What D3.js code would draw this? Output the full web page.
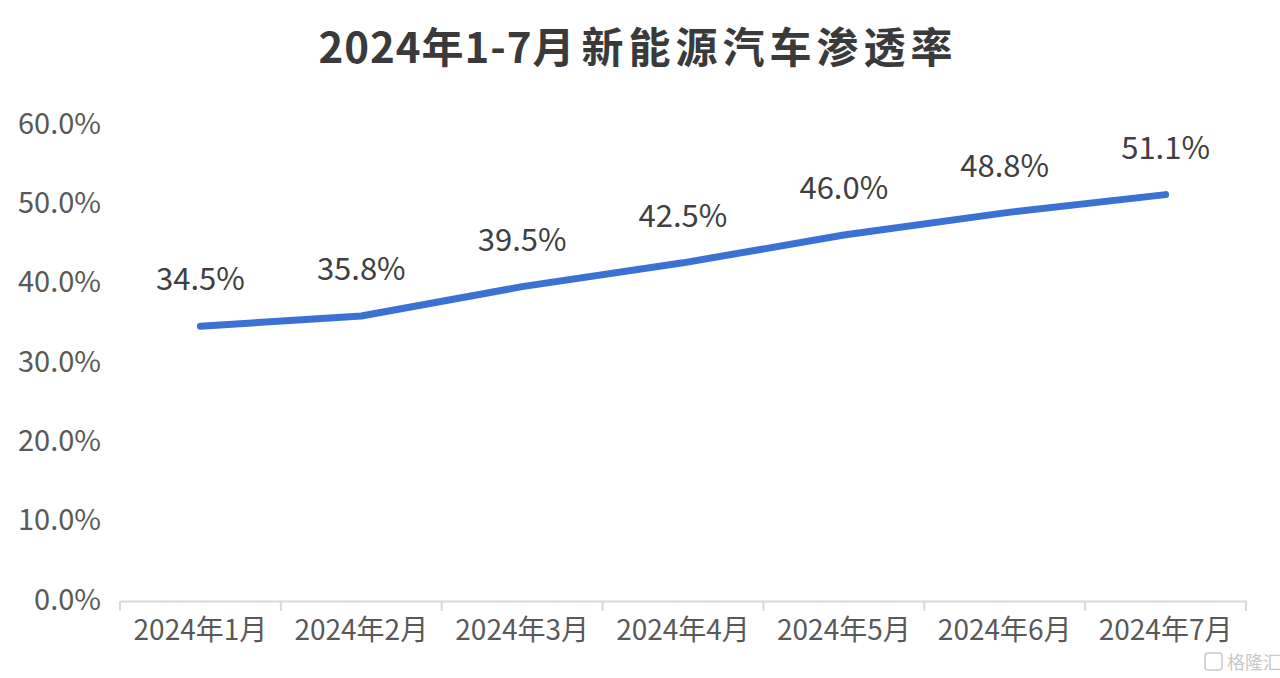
<!DOCTYPE html>
<html><head><meta charset="utf-8">
<script src="https://cdn.jsdelivr.net/npm/d3@7"></script>
<style>
html,body{margin:0;padding:0;background:#fff;}
svg{display:block;}
</style></head>
<body>
<svg id="chart" width="1280" height="678"></svg>
<script>
const categories = ["2024年1月","2024年2月","2024年3月","2024年4月","2024年5月","2024年6月","2024年7月"];
const values = [34.5, 35.8, 39.5, 42.5, 46.0, 48.8, 51.1];
const yTicks = [0, 10, 20, 30, 40, 50, 60];
const titleA = "2024年1-7月";
const titleB = "新能源汽车渗透率";

(function(){
const svg = d3.select("#chart");
const font = "'Noto Sans CJK SC', 'Noto Sans', sans-serif";
const mLeft = 120, mRight = 1246, mTop = 124, mBottom = 600;

const x = d3.scaleBand().domain(categories).range([mLeft, mRight]);
const y = d3.scaleLinear().domain([0, 60]).range([mBottom, mTop]);

const t = svg.append("text").attr("x", 638).attr("y", 63).attr("text-anchor", "middle")
  .attr("font-family", font).attr("font-size", 42).attr("font-weight", 700)
  .attr("fill", "#3a3a3a");
t.append("tspan").attr("letter-spacing", 1).text(titleA);
t.append("tspan").attr("dx", 6).attr("letter-spacing", 5).text(titleB);

// y axis labels
const yAxis = d3.axisLeft(y).tickValues(yTicks).tickSize(0).tickPadding(0)
  .tickFormat(d => d.toFixed(1) + "%");
const gy = svg.append("g").attr("transform", `translate(101,0)`).call(yAxis);
gy.select(".domain").remove();
gy.selectAll("text").attr("font-family", font).attr("font-size", 29).attr("fill", "#595959");

// x axis
const xAxis = d3.axisBottom(x).tickSize(0).tickPadding(19);
const gx = svg.append("g").attr("transform", `translate(0,${mBottom+1})`).call(xAxis);
gx.select(".domain").attr("stroke", "#d9d9d9").attr("stroke-width", 2);
gx.selectAll("text").attr("font-family", font).attr("font-size", 28).attr("fill", "#595959");
const bounds = categories.map(c => x(c)).concat([x(categories[categories.length-1]) + x.bandwidth()]);
gx.selectAll(".bound").data(bounds).enter().append("line")
  .attr("x1", d => d).attr("x2", d => d).attr("y1", 0).attr("y2", 10)
  .attr("stroke", "#d9d9d9").attr("stroke-width", 2);

// line
const line = d3.line().x((d, i) => x(categories[i]) + x.bandwidth() / 2).y(d => y(d));
svg.append("path").datum(values).attr("d", line).attr("fill", "none")
  .attr("stroke", "#3a71d2").attr("stroke-width", 7).attr("stroke-linecap", "round").attr("stroke-linejoin", "round");

// data labels
svg.selectAll(".lbl").data(values).enter().append("text")
  .attr("x", (d, i) => x(categories[i]) + x.bandwidth() / 2)
  .attr("y", d => y(d) - 36)
  .attr("text-anchor", "middle").attr("font-family", font).attr("font-size", 31)
  .attr("fill", "#404040").text(d => d.toFixed(1) + "%");

// watermark
const wm = svg.append("g").attr("transform", "translate(1205,651)");
wm.append("rect").attr("x", 0).attr("y", 2).attr("width", 17).attr("height", 17).attr("rx", 3)
  .attr("fill", "none").attr("stroke", "#c8c8c8").attr("stroke-width", 1.5);
wm.append("text").attr("x", 22).attr("y", 18).attr("font-family", font).attr("font-size", 18)
  .attr("fill", "#c8c8c8").text("格隆汇");
})();
</script>
</body></html>
